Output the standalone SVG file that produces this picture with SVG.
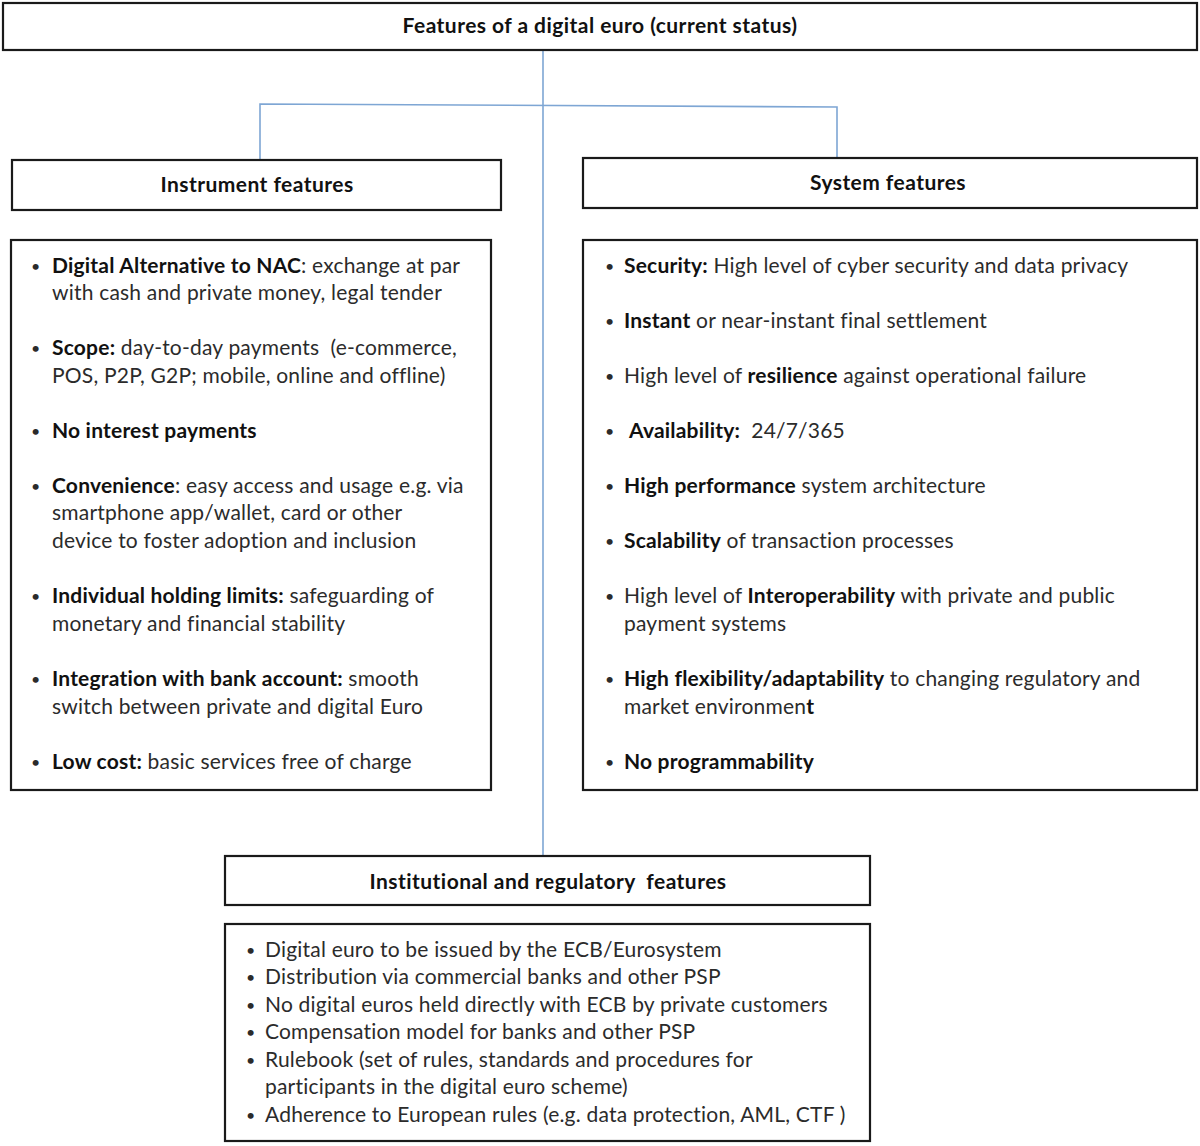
<svg xmlns="http://www.w3.org/2000/svg" width="1200" height="1146" viewBox="0 0 1200 1146">
<style>
.box{fill:#fff;stroke:#1a1a1a;stroke-width:2.2}
.conn{fill:none;stroke:#7ea6d4;stroke-width:1.6}
text{font-family:Lato,"Open Sans","Liberation Sans",sans-serif;font-size:21px;letter-spacing:0.2px;fill:#2b2b2b}
.h{font-weight:bold;fill:#111;text-anchor:middle;letter-spacing:0.45px}
.b{font-weight:bold;fill:#111}
.dot{font-size:16px}
</style>
<rect width="1200" height="1146" fill="#fff"/>
<g id="connectors">
<path class="conn" d="M543 50 V856"/>
<path class="conn" d="M260 160 V104 L837 107 V158"/>
</g>
<g id="title">
<rect class="box" x="3" y="3" width="1194" height="47"/>
<text class="h" x="600" y="33">Features of a digital euro (current status)</text>
</g>
<g id="instrument-header">
<rect class="box" x="12" y="160" width="489" height="50"/>
<text class="h" x="257" y="192">Instrument features</text>
</g>
<g id="system-header">
<rect class="box" x="583" y="158" width="614" height="50"/>
<text class="h" x="888" y="190">System features</text>
</g>
<g id="instrument-list">
<rect class="box" x="11" y="240" width="480" height="550"/>
<text class="dot" x="31" y="272">•</text><text x="52" y="273"><tspan class="b">Digital Alternative to NAC</tspan>: exchange at par</text>
<text x="52" y="300">with cash and private money, legal tender</text>
<text class="dot" x="31" y="354">•</text><text x="52" y="355" xml:space="preserve"><tspan class="b">Scope:</tspan> day-to-day payments  (e-commerce,</text>
<text x="52" y="383">POS, P2P, G2P; mobile, online and offline)</text>
<text class="dot" x="31" y="437">•</text><text x="52" y="438" class="b">No interest payments</text>
<text class="dot" x="31" y="492">•</text><text x="52" y="493"><tspan class="b">Convenience</tspan>: easy access and usage e.g. via</text>
<text x="52" y="520">smartphone app/wallet, card or other</text>
<text x="52" y="548">device to foster adoption and inclusion</text>
<text class="dot" x="31" y="602">•</text><text x="52" y="603"><tspan class="b">Individual holding limits:</tspan> safeguarding of</text>
<text x="52" y="631">monetary and financial stability</text>
<text class="dot" x="31" y="685">•</text><text x="52" y="686"><tspan class="b">Integration with bank account:</tspan> smooth</text>
<text x="52" y="714">switch between private and digital Euro</text>
<text class="dot" x="31" y="768">•</text><text x="52" y="769"><tspan class="b">Low cost:</tspan> basic services free of charge</text>
</g>
<g id="system-list">
<rect class="box" x="583" y="240" width="614" height="550"/>
<text class="dot" x="605" y="272">•</text><text x="624" y="273"><tspan class="b">Security:</tspan> High level of cyber security and data privacy</text>
<text class="dot" x="605" y="327">•</text><text x="624" y="328"><tspan class="b">Instant</tspan> or near-instant final settlement</text>
<text class="dot" x="605" y="382">•</text><text x="624" y="383">High level of <tspan class="b">resilience</tspan> against operational failure</text>
<text class="dot" x="605" y="437">•</text><text x="629" y="438" xml:space="preserve"><tspan class="b">Availability:</tspan>  24/7/365</text>
<text class="dot" x="605" y="492">•</text><text x="624" y="493"><tspan class="b">High performance</tspan> system architecture</text>
<text class="dot" x="605" y="547">•</text><text x="624" y="548"><tspan class="b">Scalability</tspan> of transaction processes</text>
<text class="dot" x="605" y="602">•</text><text x="624" y="603">High level of <tspan class="b">Interoperability</tspan> with private and public</text>
<text x="624" y="631">payment systems</text>
<text class="dot" x="605" y="685">•</text><text x="624" y="686"><tspan class="b">High flexibility/adaptability</tspan> to changing regulatory and</text>
<text x="624" y="714">market environmen<tspan class="b">t</tspan></text>
<text class="dot" x="605" y="768">•</text><text x="624" y="769" class="b">No programmability</text>
</g>
<g id="institutional-header">
<rect class="box" x="225" y="856" width="645" height="49"/>
<text class="h" x="548" y="889" xml:space="preserve">Institutional and regulatory  features</text>
</g>
<g id="institutional-list">
<rect class="box" x="225" y="924" width="645" height="217"/>
<text class="dot" x="246" y="956">•</text><text x="265" y="957">Digital euro to be issued by the ECB/Eurosystem</text>
<text class="dot" x="246" y="983">•</text><text x="265" y="984">Distribution via commercial banks and other PSP</text>
<text class="dot" x="246" y="1011">•</text><text x="265" y="1012">No digital euros held directly with ECB by private customers</text>
<text class="dot" x="246" y="1038">•</text><text x="265" y="1039">Compensation model for banks and other PSP</text>
<text class="dot" x="246" y="1066">•</text><text x="265" y="1067">Rulebook (set of rules, standards and procedures for</text>
<text x="265" y="1094">participants in the digital euro scheme)</text>
<text class="dot" x="246" y="1121">•</text><text x="265" y="1122">Adherence to European rules (e.g. data protection, AML, CTF )</text>
</g>
</svg>
